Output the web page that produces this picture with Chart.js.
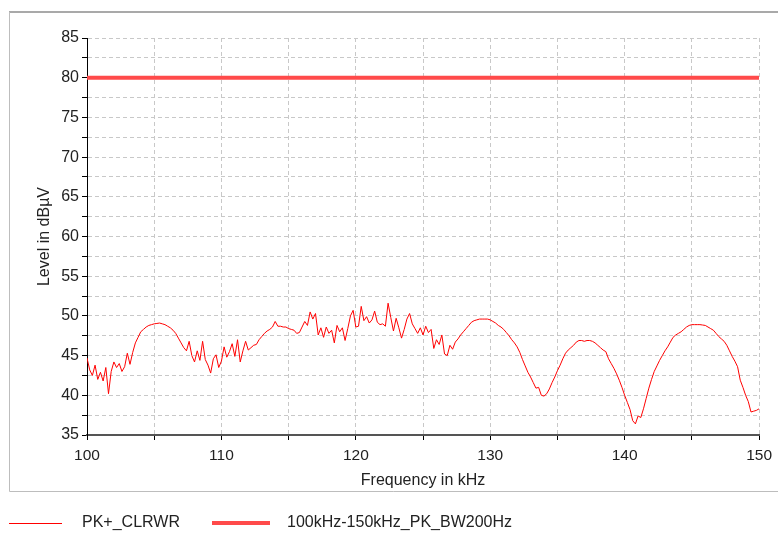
<!DOCTYPE html>
<html>
<head>
<meta charset="utf-8">
<script src="https://cdn.jsdelivr.net/npm/chart.js@4.4.1/dist/chart.umd.min.js"></script>
<style>
  html, body { margin: 0; padding: 0; background: #fff; }
  #wrap { width: 778px; height: 534px; position: relative; }
</style>
</head>
<body>
<div id="wrap"><canvas id="emiChart" width="778" height="534"></canvas></div>
<script>
// spectrum sampled every 0.2 kHz from 100 to 150 kHz
const freqStart = 100;
const freqStep = 0.2;
const levels = [
  44.7, 43.2, 42.5, 43.8, 42.0, 42.9, 41.8, 43.5, 40.2, 43.0,
  44.2, 43.5, 44.0, 43.0, 43.6, 45.3, 43.9, 45.4, 46.6, 47.3,
  48.0, 48.3, 48.6, 48.8, 48.9, 49.0, 49.05, 49.1, 49.0, 48.9,
  48.7, 48.5, 48.2, 47.8, 47.2, 46.6, 46.0, 45.6, 46.8, 45.0,
  44.2, 45.6, 44.4, 46.8, 44.5, 43.8, 42.8, 44.6, 45.1, 43.5,
  44.3, 46.1, 44.8, 45.5, 46.5, 44.9, 47.0, 44.2, 45.6, 46.8,
  45.7, 46.0, 46.3, 46.4, 47.0, 47.4, 47.8, 48.1, 48.3, 48.6,
  49.3, 48.7, 48.7, 48.6, 48.6, 48.4, 48.3, 48.2, 47.8, 47.9,
  48.6, 49.3, 48.8, 50.5, 49.6, 50.3, 47.6, 48.5, 47.3, 48.6,
  47.8, 48.2, 46.6, 48.8, 48.0, 48.5, 46.9, 48.4, 50.0, 50.7,
  48.6, 48.7, 51.2, 49.4, 49.9, 49.1, 49.5, 50.6, 49.2, 48.9,
  49.0, 48.7, 51.6, 49.8, 48.1, 49.7, 48.5, 47.2, 48.3, 49.6,
  50.3, 49.0, 48.4, 47.8, 48.5, 47.6, 48.7, 47.9, 48.3, 45.9,
  47.0, 46.4, 47.6, 45.2, 45.0, 46.3, 45.8, 46.7, 47.1, 47.6,
  48.0, 48.4, 48.8, 49.2, 49.4, 49.5, 49.6, 49.6, 49.6, 49.6,
  49.5, 49.3, 49.1, 48.8, 48.6, 48.3, 47.9, 47.5, 47.0, 46.6,
  46.1, 45.4, 44.5, 43.7, 42.9, 42.3, 41.6, 40.9, 41.0, 40.0,
  39.9, 40.2, 40.8, 41.6, 42.3, 43.1, 43.8, 44.6, 45.3, 45.7,
  46.0, 46.3, 46.7, 46.9, 46.9, 46.8, 46.9, 46.9, 46.8, 46.6,
  46.3, 46.0, 45.7, 45.5, 44.6, 44.0, 43.4, 42.7, 41.9, 41.0,
  40.0, 39.1, 38.2, 36.8, 36.4, 37.4, 37.2, 38.3, 39.6, 40.9,
  42.0, 43.0, 43.7, 44.4, 45.0, 45.6, 46.1, 46.7, 47.3, 47.6,
  47.8, 48.0, 48.3, 48.6, 48.8, 48.9, 48.9, 48.9, 48.9, 48.85,
  48.8, 48.6, 48.4, 48.2, 47.8, 47.4, 47.1, 46.8, 46.3, 45.6,
  44.9, 44.3, 43.6, 41.9, 41.0, 40.0, 39.2, 37.9, 38.0, 38.1,
  38.3
];

// limit line
const limitFreq = [100, 150];
const limitLevel = [80, 80];

const seriesNames = ['PK+_CLRWR', '100kHz-150kHz_PK_BW200Hz'];

const xRange = [100, 150];
const yRange = [35, 85];

const FONT = 'Liberation Sans, Arial, sans-serif';

const spectrum = levels.map((v, i) => ({ x: +(freqStart + i * freqStep).toFixed(1), y: v }));
const limit = limitFreq.map((f, i) => ({ x: f, y: limitLevel[i] }));

// grey frame around the diagram + legend underneath
const frameAndLegend = {
    id: 'frameAndLegend',
    beforeDraw(chart) {
        const ctx = chart.ctx;
        ctx.save();
        ctx.strokeStyle = '#a9a9a9';
        ctx.lineWidth = 2;
        ctx.beginPath();
        ctx.moveTo(9, 12);
        ctx.lineTo(778, 12);
        ctx.stroke();
        ctx.strokeStyle = '#bdbdbd';
        ctx.lineWidth = 1;
        ctx.beginPath();
        ctx.moveTo(9.5, 12);
        ctx.lineTo(9.5, 491.5);
        ctx.lineTo(778, 491.5);
        ctx.stroke();
        ctx.restore();
    },
    afterDraw(chart) {
        const ctx = chart.ctx;
        const items = [
            { x0: 9, x1: 62, tx: 82 },
            { x0: 212, x1: 270, tx: 287 }
        ];
        const y = 523.5;
        ctx.save();
        chart.data.datasets.forEach((ds, i) => {
            const it = items[i];
            ctx.strokeStyle = ds.borderColor;
            ctx.lineWidth = ds.borderWidth;
            ctx.beginPath();
            ctx.moveTo(it.x0, ds.borderWidth % 2 ? y : y - 0.5);
            ctx.lineTo(it.x1, ds.borderWidth % 2 ? y : y - 0.5);
            ctx.stroke();
            ctx.fillStyle = '#222';
            ctx.font = '16px ' + FONT;
            ctx.textBaseline = 'middle';
            ctx.fillText(ds.label, it.tx, 523);
        });
        ctx.restore();
    }
};

new Chart(document.getElementById('emiChart'), {
    type: 'line',
    data: {
        datasets: [
            {
                label: seriesNames[0],
                data: spectrum,
                borderColor: '#ff0000',
                borderWidth: 1,
                pointRadius: 0,
                tension: 0
            },
            {
                label: seriesNames[1],
                data: limit,
                borderColor: '#ff4a4a',
                borderWidth: 4,
                pointRadius: 0,
                tension: 0
            }
        ]
    },
    options: {
        responsive: false,
        animation: false,
        layout: { padding: { left: 0, right: 18.5, top: 38, bottom: 39 } },
        plugins: {
            legend: { display: false },
            tooltip: { enabled: false }
        },
        scales: {
            x: {
                type: 'linear',
                min: xRange[0],
                max: xRange[1],
                afterFit: s => { s.height = 60; },
                ticks: {
                    stepSize: 5,
                    autoSkip: false,
                    maxRotation: 0,
                    padding: 6,
                    color: '#222',
                    font: { family: FONT, size: 15.5 },
                    callback: v => (v % 10 === 0 ? String(v) : '')
                },
                grid: {
                    color: '#c8c8c8',
                    lineWidth: 1,
                    drawTicks: true,
                    tickLength: 5,
                    tickColor: '#000',
                    tickWidth: 1,
                    tickBorderDash: []
                },
                border: { display: true, color: '#555', width: 2, dash: [4, 3] },
                title: {
                    display: true,
                    text: 'Frequency in kHz',
                    color: '#222',
                    font: { family: FONT, size: 16 },
                    padding: { top: 0, bottom: 5 }
                }
            },
            y: {
                min: yRange[0],
                max: yRange[1],
                afterFit: s => { s.width = 87; },
                ticks: {
                    stepSize: 2.5,
                    autoSkip: false,
                    padding: 3,
                    color: '#222',
                    font: { family: FONT, size: 16 },
                    callback: v => (v % 5 === 0 ? String(v) : '')
                },
                grid: {
                    color: '#c8c8c8',
                    lineWidth: 1,
                    drawTicks: true,
                    tickLength: 5,
                    tickColor: '#000',
                    tickWidth: 1,
                    tickBorderDash: []
                },
                border: { display: true, color: '#000', width: 1, dash: [4, 3] },
                title: {
                    display: true,
                    text: 'Level in dBµV',
                    color: '#222',
                    font: { family: FONT, size: 16 },
                    padding: { top: 35, bottom: 0 }
                }
            }
        }
    },
    plugins: [frameAndLegend]
});
</script>
</body>
</html>
